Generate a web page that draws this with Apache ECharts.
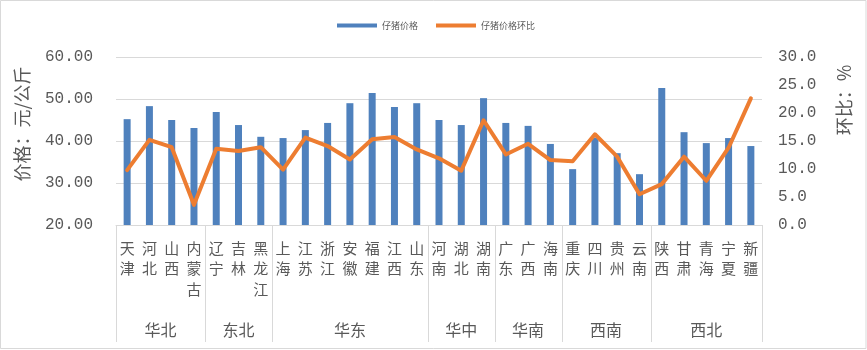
<!DOCTYPE html>
<html><head><meta charset="utf-8">
<script src="https://cdn.jsdelivr.net/npm/echarts@6/dist/echarts.min.js"></script>
<style>html,body{margin:0;padding:0;background:#fff}#c{width:867px;height:350px}</style>
</head><body><div id="c"></div>
<script>
const provinces = ['天津','河北','山西','内蒙古','辽宁','吉林','黑龙江','上海','江苏','浙江','安徽','福建','江西','山东','河南','湖北','湖南','广东','广西','海南','重庆','四川','贵州','云南','陕西','甘肃','青海','宁夏','新疆'];
const price = [45.2,48.3,45.0,43.1,46.9,43.8,41.0,40.7,42.6,44.3,49.0,51.4,48.1,49.0,45.0,43.8,50.2,44.3,43.6,39.3,33.3,40.8,37.1,32.1,52.6,42.1,39.5,40.7,38.8];
const mom = [9.8,15.2,13.9,3.6,13.6,13.2,13.9,9.9,15.6,14.1,11.7,15.3,15.7,13.5,11.9,9.7,18.7,12.6,14.5,11.6,11.4,16.2,12.2,5.5,7.3,12.2,7.9,13.8,22.6];
const groupNames = ['华北','东北','华东','华中','华南','西南','西北'];
const groupCounts = [4,3,7,3,3,4,5];
const seriesNames = ['仔猪价格','仔猪价格环比'];
const leftAxisName = '价格：元/公斤';
const rightAxisName = '环比：%';

const groupData = [];
let acc = 0;
groupNames.forEach((g, i) => { groupData.push([acc, groupCounts[i], g]); acc += groupCounts[i]; });

const txt = '#595959', grid = '#d9d9d9';
const chart = echarts.init(document.getElementById('c'), null, {renderer:'canvas'});
chart.setOption({
  animation: false,
  backgroundColor: '#fff',
  legend: {
    data: seriesNames, left: 337, top: 21, padding: 0,
    itemWidth: 40, itemHeight: 4, itemGap: 18, icon: 'rect',
    textStyle: {fontSize: 9, color: txt, fontFamily: 'Noto Sans CJK SC'}
  },
  grid: {left: 116, right: 105, top: 57, bottom: 125, containLabel: false, outerBoundsMode: 'none'},
  xAxis: [{
    type: 'category', data: provinces, boundaryGap: true,
    axisLine: {lineStyle: {color: grid, width: 1}},
    axisTick: {show: false},
    axisLabel: {
      interval: 0, margin: 13, color: txt, fontSize: 15, lineHeight: 20.5,
      fontFamily: 'Noto Sans CJK SC', verticalAlign: 'top',
      formatter: v => v.split('').join('\n')
    }
  }],
  yAxis: [{
    type: 'value', min: 20, max: 60, interval: 10,
    axisLine: {show: false}, axisTick: {show: false},
    splitLine: {lineStyle: {color: grid, width: 1}},
    axisLabel: {margin: 23, color: txt, fontSize: 16, fontFamily: 'Liberation Mono', formatter: v => v.toFixed(2)}
  }, {
    type: 'value', min: 0, max: 30, interval: 5, position: 'right',
    axisLine: {show: false}, axisTick: {show: false}, splitLine: {show: false},
    axisLabel: {margin: 16, color: txt, fontSize: 16, fontFamily: 'Liberation Mono', formatter: v => v.toFixed(1)}
  }],
  series: [{
    name: seriesNames[0], type: 'bar', data: price, barWidth: 7,
    itemStyle: {color: '#4f81bd'}
  }, {
    name: seriesNames[1], type: 'line', yAxisIndex: 1, data: mom,
    symbol: 'none', z: 5,
    lineStyle: {color: '#ed7d31', width: 4, cap: 'round', join: 'round'},
    itemStyle: {color: '#ed7d31'}
  }, {
    type: 'custom', name: 'groups', data: groupData, encode: {x: 0},
    silent: true, z: 1,
    renderItem: (params, api) => {
      const start = api.value(0), count = api.value(1);
      const name = groupData[params.dataIndex][2];
      const bw = api.size([1, 0])[0];
      const cs = params.coordSys;
      const x0 = api.coord([start, 20])[0] - bw / 2;
      const x1 = x0 + bw * count;
      const yTop = cs.y + cs.height;
      const yBot = yTop + 117;
      return {type: 'group', children: [
        {type: 'line', shape: {x1: Math.round(x0)+0.5, y1: yTop, x2: Math.round(x0)+0.5, y2: yBot}, style: {stroke: grid, lineWidth: 1}},
        {type: 'line', shape: {x1: Math.round(x1)+0.5, y1: yTop, x2: Math.round(x1)+0.5, y2: yBot}, style: {stroke: grid, lineWidth: 1}},
        {type: 'text', style: {text: name, x: (x0 + x1) / 2, y: yTop + 105, align: 'center', verticalAlign: 'middle',
          fontSize: 16, fontFamily: 'Noto Sans CJK SC', fill: txt}}
      ]};
    }
  }],
  graphic: [
    {type: 'rect', shape: {x: 0.5, y: 0.5, width: 865.5, height: 348}, style: {fill: null, stroke: grid, lineWidth: 1}, silent: true},
    {type: 'text', x: 22, y: 124, rotation: Math.PI / 2,
      style: {text: leftAxisName, align: 'center', verticalAlign: 'middle', fontSize: 18, fontFamily: 'Noto Sans CJK SC', fill: txt}},
    {type: 'text', x: 844, y: 100, rotation: Math.PI / 2,
      style: {text: rightAxisName, align: 'center', verticalAlign: 'middle', fontSize: 18, fontFamily: 'Noto Sans CJK SC', fill: txt}}
  ]
});
</script></body></html>
